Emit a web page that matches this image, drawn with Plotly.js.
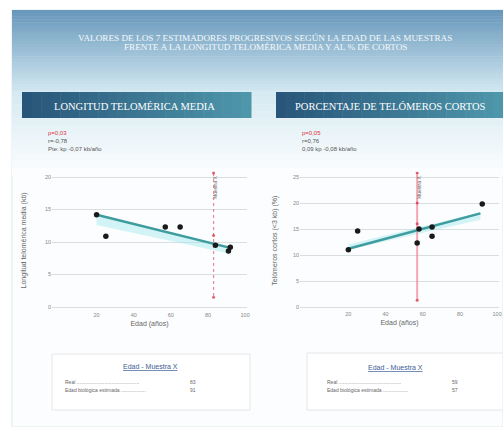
<!DOCTYPE html>
<html>
<head>
<meta charset="utf-8">
<script src="https://cdn.plot.ly/plotly-3.0.1.min.js"></script>
<style>
html,body{margin:0;padding:0;background:#ffffff;}
#chart{width:503px;height:427px;}
</style>
</head>
<body>
<div id="chart"></div>
<script>
// ---- data ----
var edadL = [20, 25, 57, 65, 84, 91, 92];
var ltmL  = [14.2, 10.9, 12.3, 12.3, 9.5, 8.6, 9.2];
var fitXL = [20, 92];
var fitYL = [14.2, 9.1];
var bandUpL = [14.3, 9.3];
var bandLoL = [12.6, 8.2];
var muestraL = 83;
var muestraYL = [20.6, 11.0, 1.5];

var edadR = [20, 25, 57, 58, 65, 65, 92];
var pctR  = [11.0, 14.6, 12.3, 15.0, 15.4, 13.6, 19.8];
var fitXR = [20, 91];
var fitYR = [11.2, 18.0];
var bandUpR = [12.0, 18.2];
var bandLoR = [11.0, 16.8];
var muestraR = 57;
var muestraYR = [25.8, 20.0, 16.0, 1.3];

var xTicks = [20, 40, 60, 80, 100];
var yTicksL = [0, 5, 10, 15, 20];
var yTicksR = [0, 5, 10, 15, 20, 25];

var statsL = ["p=0,03", "r=-0,78", "Pte: kp -0,07 kb/año"];
var statsR = ["p=0,05", "r=0,76", "0,09 kp -0,08 kb/año"];
var boxL = {real: "83", est: "91"};
var boxR = {real: "59", est: "57"};

// ---- helpers ----
var W = 503, H = 427;
function px(x){ return x / W; }
function py(y){ return 1 - y / H; }
function mix(c1, c2, t){
  var r = Math.round(c1[0] + (c2[0]-c1[0])*t);
  var g = Math.round(c1[1] + (c2[1]-c1[1])*t);
  var b = Math.round(c1[2] + (c2[2]-c1[2])*t);
  return 'rgb(' + r + ',' + g + ',' + b + ')';
}
function gradRects(x0, y0, x1, y1, c1, c2, n, horizontal){
  var out = [];
  for (var i = 0; i < n; i++){
    var t = i / (n - 1);
    var s;
    if (horizontal){
      var a = x0 + (x1-x0)*i/n, b = x0 + (x1-x0)*(i+1)/n + 0.5;
      s = {type:'rect', xref:'paper', yref:'paper', x0:px(a), x1:px(b), y0:py(y1), y1:py(y0),
           fillcolor: mix(c1,c2,t), line:{width:0}, layer:'below'};
    } else {
      var a2 = y0 + (y1-y0)*i/n, b2 = y0 + (y1-y0)*(i+1)/n + 0.5;
      s = {type:'rect', xref:'paper', yref:'paper', x0:px(x0), x1:px(x1), y0:py(b2), y1:py(a2),
           fillcolor: mix(c1,c2,t), line:{width:0}, layer:'below'};
    }
    out.push(s);
  }
  return out;
}

// ---- traces ----
var cyan = 'rgba(160,232,238,0.45)';
var teal = '#3f9c9e';
var red = 'rgba(230,70,90,0.65)';
var traces = [
  {x: fitXL, y: bandLoL, xaxis:'x', yaxis:'y', mode:'lines', line:{width:0}, hoverinfo:'skip', showlegend:false},
  {x: fitXL, y: bandUpL, xaxis:'x', yaxis:'y', mode:'lines', line:{width:0}, fill:'tonexty', fillcolor:cyan, hoverinfo:'skip', showlegend:false},
  {x: [muestraL, muestraL, muestraL], y: muestraYL, xaxis:'x', yaxis:'y', mode:'lines+markers',
   line:{color:red, width:1.2, dash:'dot'}, marker:{color:'rgba(220,60,80,0.8)', size:3}, showlegend:false},
  {x: fitXL, y: fitYL, xaxis:'x', yaxis:'y', mode:'lines', line:{color:teal, width:2.5}, showlegend:false},
  {x: edadL, y: ltmL, xaxis:'x', yaxis:'y', mode:'markers', marker:{color:'#1a1a1a', size:5.5}, showlegend:false},

  {x: fitXR, y: bandLoR, xaxis:'x2', yaxis:'y2', mode:'lines', line:{width:0}, hoverinfo:'skip', showlegend:false},
  {x: fitXR, y: bandUpR, xaxis:'x2', yaxis:'y2', mode:'lines', line:{width:0}, fill:'tonexty', fillcolor:cyan, hoverinfo:'skip', showlegend:false},
  {x: [muestraR, muestraR, muestraR, muestraR], y: muestraYR, xaxis:'x2', yaxis:'y2', mode:'lines+markers',
   line:{color:'rgba(240,110,130,0.6)', width:2}, marker:{color:'rgba(220,60,80,0.8)', size:3}, showlegend:false},
  {x: fitXR, y: fitYR, xaxis:'x2', yaxis:'y2', mode:'lines', line:{color:teal, width:2.5}, showlegend:false},
  {x: edadR, y: pctR, xaxis:'x2', yaxis:'y2', mode:'markers', marker:{color:'#1a1a1a', size:5.5}, showlegend:false}
];

// ---- shapes ----
var shapes = [];
shapes.push({type:'rect', xref:'paper', yref:'paper', x0:px(12), x1:px(503), y0:py(427), y1:py(10),
  fillcolor:'#fbfdfe', line:{color:'#e3e8ea', width:1}, layer:'below'});
shapes = shapes.concat(gradRects(12, 90, 503, 175, [214,234,242], [251,253,254], 12, false));
shapes = shapes.concat(gradRects(12, 10, 503, 90, [104,152,188], [206,229,239], 26, false));
shapes = shapes.concat(gradRects(22, 92, 251, 118, [40,86,122], [78,150,170], 24, true));
shapes = shapes.concat(gradRects(276, 92, 503, 118, [40,86,122], [78,150,170], 24, true));
shapes.push({type:'rect', xref:'paper', yref:'paper', x0:px(52), x1:px(250), y0:py(410), y1:py(354),
  fillcolor:'#ffffff', line:{color:'#e4e6e8', width:1}});
shapes.push({type:'rect', xref:'paper', yref:'paper', x0:px(307), x1:px(503), y0:py(410), y1:py(353),
  fillcolor:'#ffffff', line:{color:'#e4e6e8', width:1}});

// ---- annotations ----
var ann = [];
function txt(x, y, t, opt){
  opt = opt || {};
  ann.push({xref:'paper', yref:'paper', x:px(x), y:py(y), text:t, showarrow:false,
    xanchor: opt.xa || 'center', yanchor: opt.ya || 'middle', textangle: opt.ang || 0,
    font:{family: opt.family || 'Liberation Sans, Arial, sans-serif', size: opt.size || 6, color: opt.color || '#555'}});
}
txt(265, 38, 'VALORES DE LOS 7 ESTIMADORES PROGRESIVOS SEGÚN LA EDAD DE LAS MUESTRAS', {size:9.2, color:'#f4f8fb', family:'Liberation Serif, serif'});
txt(265, 47, 'FRENTE A LA LONGITUD TELOMÉRICA MEDIA Y AL % DE CORTOS', {size:9.2, color:'#f4f8fb', family:'Liberation Serif, serif'});
txt(134, 106, 'LONGITUD TELOMÉRICA MEDIA', {size:10.5, color:'#ffffff', family:'Liberation Serif, serif'});
txt(390, 106, 'PORCENTAJE DE TELÓMEROS CORTOS', {size:10.5, color:'#ffffff', family:'Liberation Serif, serif'});

txt(46, 133, statsL[0], {xa:'left', color:'#e0303a', size:6});
txt(46, 141, statsL[1], {xa:'left', color:'#555', size:6});
txt(46, 149, statsL[2], {xa:'left', color:'#555', size:6});
txt(300, 133, statsR[0], {xa:'left', color:'#e0303a', size:6});
txt(300, 141, statsR[1], {xa:'left', color:'#555', size:6});
txt(300, 149, statsR[2], {xa:'left', color:'#555', size:6});

txt(215, 188, 'Muestra X', {ang:-90, size:5, color:'#666'});
txt(419, 188, 'Muestra X', {ang:-90, size:5, color:'#666'});

txt(150, 366, '<u>Edad - Muestra X</u>', {size:7, color:'#3b5c94'});
txt(63, 382, 'Real .............................................', {xa:'left', size:5, color:'#666'});
txt(188, 382, boxL.real, {xa:'left', size:5, color:'#666'});
txt(63, 390, 'Edad biológica estimada ..................', {xa:'left', size:5, color:'#666'});
txt(188, 390, boxL.est, {xa:'left', size:5, color:'#666'});

txt(395, 367, '<u>Edad - Muestra X</u>', {size:7, color:'#3b5c94'});
txt(325, 382, 'Real .............................................', {xa:'left', size:5, color:'#666'});
txt(450, 382, boxR.real, {xa:'left', size:5, color:'#666'});
txt(325, 390, 'Edad biológica estimada ..................', {xa:'left', size:5, color:'#666'});
txt(450, 390, boxR.est, {xa:'left', size:5, color:'#666'});

// ---- axes ----
var tickFont = {family:'Liberation Sans, Arial, sans-serif', size:5.5, color:'#888'};
var titleFont = {family:'Liberation Sans, Arial, sans-serif', size:7, color:'#666'};
function xax(dom, rng){
  return {domain:dom, range:rng, tickvals:xTicks, ticktext:xTicks.map(String), showgrid:false, zeroline:false,
    showline:false, ticks:'', tickfont:tickFont, fixedrange:true,
    title:{text:'Edad (años)', font:titleFont, standoff:4}};
}
function yax(dom, rng, vals, title, anchor, so){
  return {domain:dom, range:rng, tickvals:vals, ticktext:vals.map(String), showgrid:true, gridcolor:'#d9dee1', gridwidth:1,
    zeroline:false, showline:false, ticks:'', tickfont:tickFont, anchor:anchor, fixedrange:true,
    title:{text:title, font:titleFont, standoff:so}};
}

var layout = {
  width: W, height: H,
  margin:{l:0, r:0, t:0, b:0},
  paper_bgcolor:'#ffffff',
  plot_bgcolor:'rgba(238,244,247,0.6)',
  showlegend:false,
  xaxis: xax([px(52), px(247)], [-4, 101]),
  yaxis: yax([py(310.25), py(170.5)], [-0.5, 21], yTicksL, 'Longitud telomérica media (kb)', 'x', 17),
  xaxis2: Object.assign(xax([px(300), px(499)], [-6, 101]), {anchor:'y2'}),
  yaxis2: yax([py(309.6), py(171.8)], [-0.5, 26], yTicksR, 'Telómeros cortos (<3 kb) (%)', 'x2', 14),
  shapes: shapes,
  annotations: ann
};
layout.xaxis.anchor = 'y';

Plotly.newPlot('chart', traces, layout, {displayModeBar:false, staticPlot:true});
</script>
</body>
</html>
